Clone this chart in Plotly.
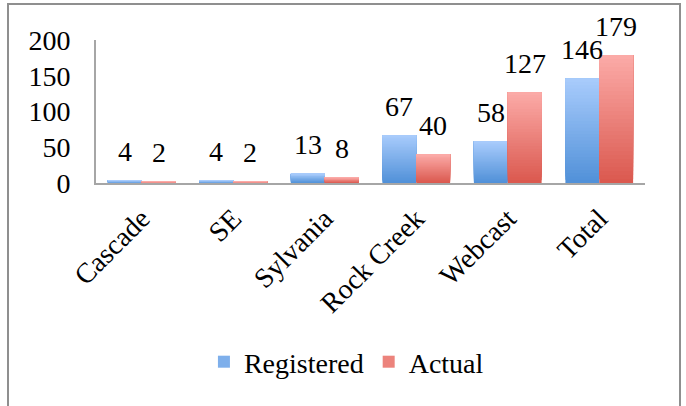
import plotly.graph_objects as go

# Attendance by location
categories = ["Cascade", "SE", "Sylvania", "Rock Creek", "Webcast", "Total"]
registered = [4, 4, 13, 67, 58, 146]
actual = [2, 2, 8, 40, 127, 179]

W, H = 686, 406
L, R, T, B = 96, 41, 40, 223
FONT = "'Liberation Serif', 'Times New Roman', serif"
FS = 28

# bottom -> top colours of the vertical gradient fill
BLUE = ((0x50, 0x90, 0xd8), (0xa9, 0xcc, 0xfc))
RED = ((0xda, 0x58, 0x4e), (0xfc, 0xab, 0xa8))
STEPS = 32


def mix(c0, c1, t):
    return "rgb({},{},{})".format(*[round(a + (b - a) * t) for a, b in zip(c0, c1)])


fig = go.Figure()


def gradient_bars(name, values, cols, group):
    # each layer starts a bit higher and runs to the bar top, painted bottom-up
    for i in range(STEPS):
        frac = i / STEPS
        fig.add_trace(go.Bar(
            x=categories,
            y=[v * (1 - frac) for v in values],
            base=[v * frac for v in values],
            offsetgroup=group,
            marker=dict(color=mix(cols[0], cols[1], (i + 0.5) / STEPS), line=dict(width=0)),
            name=name,
            legendgroup=group,
            showlegend=(i == STEPS // 2),
            hoverinfo="skip" if i else None,
        ))


gradient_bars("Registered", registered, BLUE, "reg")
gradient_bars("Actual", actual, RED, "act")

# value labels above each bar
for series, shift in ((registered, -17), (actual, 17)):
    for c, v in zip(categories, series):
        fig.add_annotation(x=c, y=v, text=str(v), showarrow=False,
                           xshift=shift, yshift=29, yanchor="middle",
                           font=dict(family=FONT, size=FS, color="black"))

# outer frame
pw, ph = W - L - R, H - T - B
fig.add_shape(type="rect", xref="paper", yref="paper",
              x0=(8 - L) / pw, x1=(680 - L) / pw,
              y0=(T + ph - 420) / ph, y1=(T + ph - 4) / ph,
              line=dict(color="#8f8f8f", width=2), layer="below")

fig.update_layout(
    width=W, height=H,
    margin=dict(l=L, r=R, t=T, b=B),
    paper_bgcolor="white", plot_bgcolor="white",
    barmode="group", bargap=0.26, bargroupgap=0,
    font=dict(family=FONT, size=FS, color="black"),
    showlegend=True,
    legend=dict(orientation="h", xref="container", yref="container",
                x=0.505, y=1 - 362 / H, xanchor="center", yanchor="middle",
                font=dict(family=FONT, size=FS, color="black"), itemwidth=30,
                tracegroupgap=0),
)
fig.update_xaxes(showline=True, linecolor="#a6a6a6", linewidth=2,
                 showgrid=False, ticks="", tickangle=-45,
                 ticklabelstandoff=6, zeroline=False)
fig.update_yaxes(range=[0, 200], tickvals=[0, 50, 100, 150, 200],
                 showline=True, linecolor="#a6a6a6", linewidth=2,
                 showgrid=False, zeroline=False, ticks="",
                 ticklabelstandoff=18)

fig.write_html("out.html")
